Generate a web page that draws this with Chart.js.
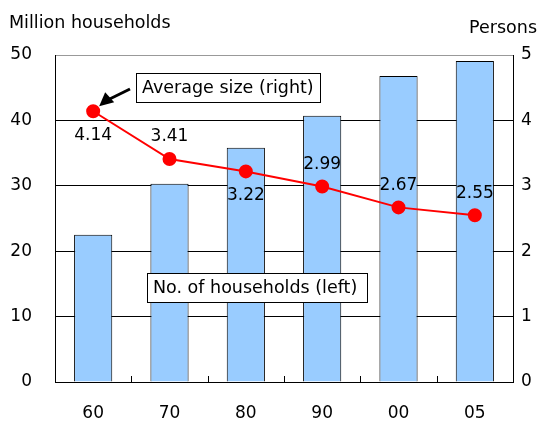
<!DOCTYPE html>
<html>
<head>
<meta charset="utf-8">
<script src="https://cdn.jsdelivr.net/npm/chart.js@4/dist/chart.umd.min.js"></script>
<style>
  html, body { margin: 0; padding: 0; background: #fff; }
  #wrap { width: 540px; height: 421px; position: relative; }
</style>
</head>
<body>
<div id="wrap"><canvas id="householdChart"></canvas></div>
<script>
// values
const years = ['60', '70', '80', '90', '00', '05'];
const households = [22.5, 30.3, 35.8, 40.7, 46.8, 49.1];   // million, left axis
const avgSize = [4.14, 3.41, 3.22, 2.99, 2.67, 2.55];      // persons, right axis
const labelSide = ['below', 'above', 'below', 'above', 'above', 'above'];
const leftTicks = [0, 10, 20, 30, 40, 50];
const rightTicks = [0, 1, 2, 3, 4, 5];

const FONT = '"DejaVu Sans", sans-serif';

// draws axis titles, value labels, the two callout boxes and the small x ticks
const extras = {
    id: 'extras',
    afterDatasetsDraw(chart) {
        const c = chart.ctx;
        const x = chart.scales.x;
        const y1 = chart.scales.y1;
        const area = chart.chartArea;
        c.save();

        // small tick marks between categories, pointing up from the axis
        c.strokeStyle = '#000';
        c.lineWidth = 1;
        for (let i = 1; i < years.length; i++) {
            const px = Math.round((x.getPixelForValue(i - 1) + x.getPixelForValue(i)) / 2) + 0.5;
            c.beginPath();
            c.moveTo(px, area.bottom);
            c.lineTo(px, area.bottom - 6);
            c.stroke();
        }

        // value labels for the line
        c.font = '17px ' + FONT;
        c.fillStyle = '#000';
        c.textAlign = 'center';
        c.textBaseline = 'middle';
        avgSize.forEach((v, i) => {
            const px = x.getPixelForValue(i);
            const py = y1.getPixelForValue(v);
            const dy = labelSide[i] === 'below' ? 24 : -22;
            c.fillText(v.toFixed(2), px, py + dy);
        });

        // callout boxes
        c.font = '17.5px ' + FONT;
        function box(text, left, top, w, h) {
            c.fillStyle = '#fff';
            c.fillRect(left, top, w, h);
            c.strokeStyle = '#000';
            c.lineWidth = 1;
            c.strokeRect(left + 0.5, top + 0.5, w, h);
            c.fillStyle = '#000';
            c.textAlign = 'left';
            c.textBaseline = 'middle';
            c.fillText(text, left + 6, top + h / 2 + 1);
        }
        box('Average size (right)', 136, 73, 184, 29);
        box('No. of households (left)', 147, 273, 220, 29);

        // arrow pointing to first point
        const ax = x.getPixelForValue(0) + 6;
        const ay = y1.getPixelForValue(avgSize[0]) - 5;
        c.strokeStyle = '#000';
        c.lineWidth = 3;
        c.beginPath();
        c.moveTo(130, 89);
        c.lineTo(ax + 8, ay - 6);
        c.stroke();
        c.beginPath();
        c.fillStyle = '#000';
        c.moveTo(ax, ay);
        c.lineTo(ax + 15, ay - 4);
        c.lineTo(ax + 6, ay - 14);
        c.closePath();
        c.fill();

        // axis titles
        c.font = '17.5px ' + FONT;
        c.textAlign = 'left';
        c.textBaseline = 'alphabetic';
        c.fillText('Million households', 9, 28);
        c.textAlign = 'right';
        c.fillText('Persons', 537, 33);

        c.restore();
    }
};

new Chart(document.getElementById('householdChart'), {
    data: {
        labels: years,
        datasets: [
            {
                type: 'line',
                label: 'Average size (right)',
                data: avgSize,
                yAxisID: 'y1',
                borderColor: '#ff0000',
                backgroundColor: '#ff0000',
                borderWidth: 2,
                pointRadius: 6,
                pointHoverRadius: 6,
                order: 0
            },
            {
                type: 'bar',
                label: 'No. of households (left)',
                data: households,
                yAxisID: 'y',
                backgroundColor: '#99ccff',
                borderColor: '#000',
                borderWidth: 1,
                barPercentage: 0.5,
                categoryPercentage: 1,
                order: 1
            }
        ]
    },
    options: {
        responsive: true,
        maintainAspectRatio: false,
        animation: false,
        layout: { padding: { top: 55, left: 0, right: 0, bottom: 0 } },
        plugins: { legend: { display: false }, tooltip: { enabled: false } },
        scales: {
            x: {
                grid: { display: false },
                border: { color: '#000', width: 1 },
                ticks: { color: '#000', font: { size: 17, family: FONT }, padding: 13 },
                afterFit(s) { s.height = 39; }
            },
            y: {
                position: 'left',
                min: 0,
                max: 50,
                afterBuildTicks(s) { s.ticks = leftTicks.map(v => ({ value: v })); },
                grid: { color: ctx => ctx.tick.value === 50 ? '#999' : '#000', drawTicks: false },
                border: { color: '#000', width: 1 },
                ticks: { color: '#000', font: { size: 17, family: FONT }, padding: 23 },
                afterFit(s) { s.width = 55; }
            },
            y1: {
                position: 'right',
                min: 0,
                max: 5,
                afterBuildTicks(s) { s.ticks = rightTicks.map(v => ({ value: v })); },
                grid: { drawOnChartArea: false, drawTicks: false },
                border: { color: '#000', width: 1 },
                ticks: { color: '#000', font: { size: 17, family: FONT }, padding: 8 },
                afterFit(s) { s.width = 27; }
            }
        }
    },
    plugins: [extras]
});
</script>
</body>
</html>
